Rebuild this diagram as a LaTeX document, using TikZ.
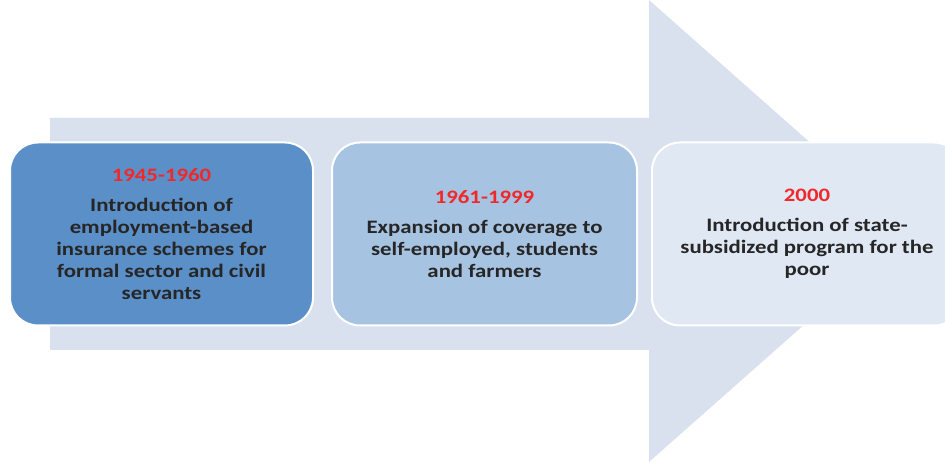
\documentclass[tikz,border=0pt]{standalone}
\usepackage{fontspec}
\setmainfont{Carlito}[FakeStretch=1.2]
\definecolor{arrowfill}{HTML}{D9E0EE}
\definecolor{boxone}{HTML}{5B8FC7}
\definecolor{boxtwo}{HTML}{A7C3E2}
\definecolor{boxthree}{HTML}{E0E8F4}
\definecolor{yearred}{HTML}{F0282A}

\tikzset{
  period/.style={draw=white, line width=2pt, rounded corners=28pt,
    minimum height=183pt, align=center, inner sep=0pt,
    font=\fontsize{19}{22}\selectfont\bfseries, text=black!85}
}

\begin{document}
\begin{tikzpicture}[x=1pt,y=1pt]

\useasboundingbox (0,0) rectangle (945,462);

% big arrow behind the periods
\fill [arrowfill] (50,112) -- (50,344) -- (649,344) -- (649,462)
  -- (910,231) -- (649,0) -- (649,112) -- cycle;

\node [period, fill=boxone, minimum width=303pt] (p1) at (161.5,228)
  {\textcolor{yearred}{1945-1960}\\[8pt]Introduction of\\employment-based\\insurance schemes for\\formal sector and civil\\servants};
\node [period, fill=boxtwo, minimum width=305pt] (p2) at (484.5,228)
  {\textcolor{yearred}{1961-1999}\\[8pt]Expansion of coverage to\\self-employed, students\\and farmers};
\node [period, fill=boxthree, minimum width=310pt] (p3) at (807,228)
  {\textcolor{yearred}{2000}\\[8pt]Introduction of state-\\subsidized program for the\\poor};

\end{tikzpicture}
\end{document}
